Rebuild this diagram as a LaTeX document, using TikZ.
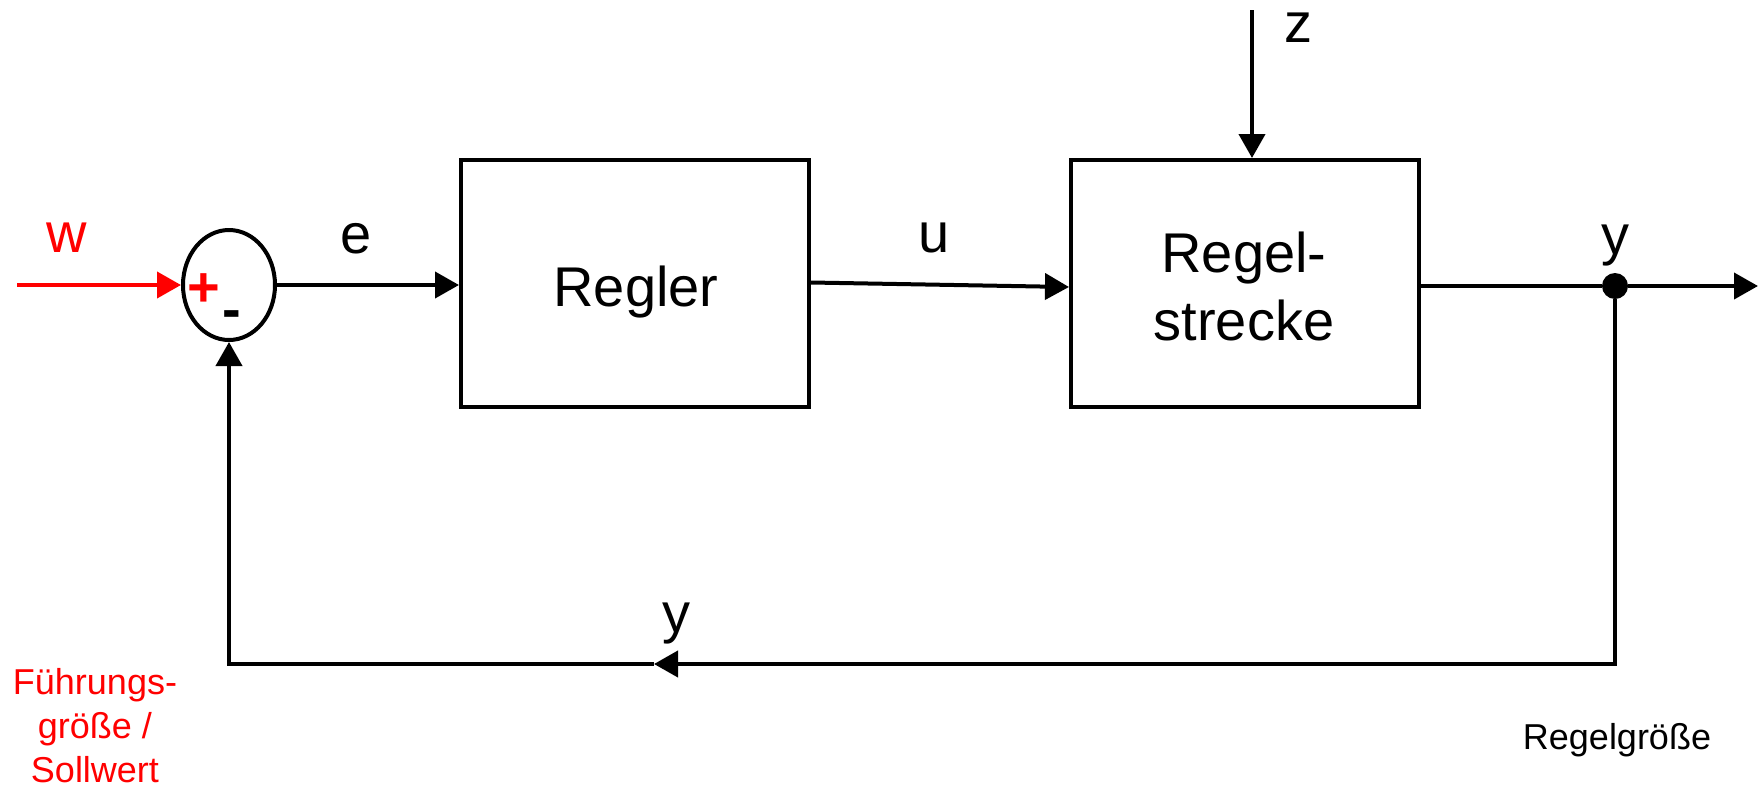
\documentclass[tikz,border=0pt]{standalone}
\usepackage{fontspec}
\setmainfont{Liberation Sans}
\usetikzlibrary{arrows.meta,shapes.geometric}
\definecolor{sigred}{RGB}{255,0,0}
\tikzset{
  wire/.style={line width=2pt},
  arr/.style={wire,-{Triangle[length=12pt,width=13pt]}},
  blockbox/.style={draw,line width=2pt,rectangle,minimum width=174pt,minimum height=123.5pt,inner sep=0pt,font=\fontsize{28}{34}\selectfont,align=center},
  lbl/.style={inner sep=0pt,anchor=base,font=\fontsize{28}{34}\selectfont},
  small/.style={inner sep=0pt,font=\fontsize{18}{22}\selectfont,align=center},
}
\begin{document}
\begin{tikzpicture}[x=0.5pt,y=-0.5pt]
\useasboundingbox (0,0) rectangle (1758,788);
% nodes
\node[draw,ellipse,line width=2pt,minimum width=46pt,minimum height=55pt,inner sep=0pt] (sum) at (229,285) {};
\node[blockbox] (regler) at (635,283.5) {};
\node[lbl] (reglertxt) at (636,306) {Regler};
\node[blockbox] (strecke) at (1245,283.5) {};
\node[lbl] (st1) at (1244,272) {Regel-};
\node[lbl] (st2) at (1244,340) {strecke};
\node[circle,fill,inner sep=0pt,minimum size=13pt] (dot) at (1615,286) {};
\coordinate (win) at (17,285);
\coordinate (zin) at (1252,10);
\coordinate (out) at (1758,286);
\coordinate (br) at (1615,664);
\coordinate (fbtip) at (654,664);
\coordinate (bl) at (229,664);
% labels
\node[lbl,text=sigred] (wl) at (67,252) {w};
\node[lbl] (el) at (356,253) {e};
\node[lbl] (ul) at (934,252) {u};
\node[lbl] (zl) at (1298,42) {z};
\node[lbl] (yl) at (1615,254) {y};
\node[lbl] (yb) at (676,632) {y};
\node[lbl,text=sigred,font=\fontsize{28}{34}\selectfont\bfseries] (plus) at (204,306) {+};
\node[lbl,font=\fontsize{28}{34}\selectfont\bfseries] (minus) at (232,328) {-};
\node[small,anchor=base] (rg) at (1617,749) {Regelgröße};
\node[small,anchor=north,text=sigred] (fg) at (95,668) {Führungs-\\größe /\\Sollwert};
% connectors
\draw[arr,draw=sigred,fill=sigred] (win) -- (sum.west);
\draw[arr] (sum.east) -- (sum.east -| regler.west);
\draw[arr] ([yshift=0.5pt]regler.east) -- ([yshift=-1.75pt]strecke.west);
\draw[arr] (zin) -- (zin |- strecke.north);
\draw[wire] (strecke.east |- dot) -- (dot);
\draw[arr] (dot) -- (out);
\draw[arr] (dot) -- (br) -- (fbtip);
\draw[arr] (fbtip) -- (bl) -- (sum.south);
\end{tikzpicture}
\end{document}
